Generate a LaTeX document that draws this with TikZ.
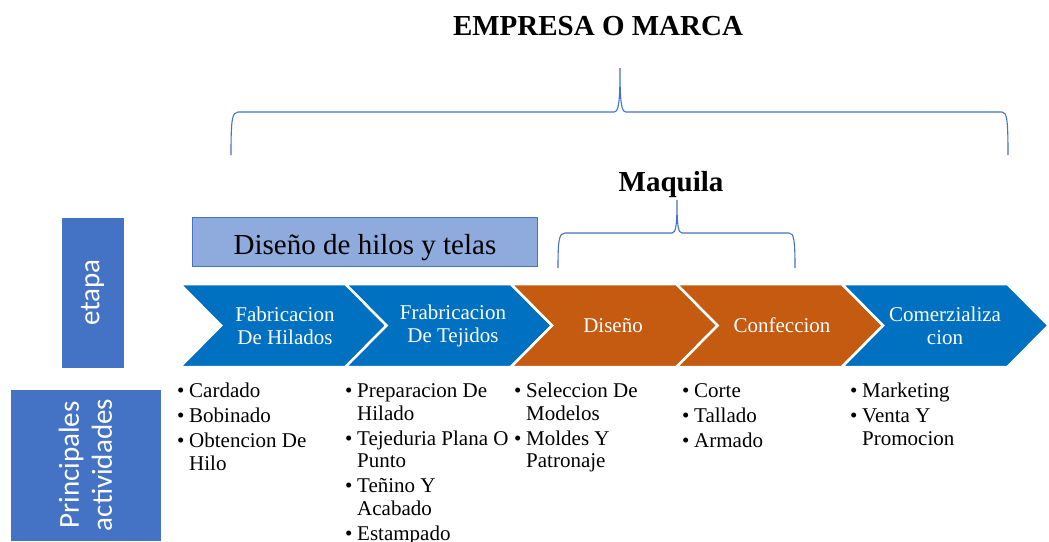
\documentclass[tikz,border=0pt]{standalone}
\usepackage{fontspec}
\setmainfont{Liberation Serif}
\newfontfamily\calib{Carlito}
\definecolor{boxblue}{HTML}{4472C4}
\definecolor{lightblue}{HTML}{8FAADC}
\definecolor{chblue}{HTML}{0070C0}
\definecolor{chorange}{HTML}{C55A11}
\newcommand\mychev[2]{\fill[#2, draw=white, line width=2.5pt] (#1,284) -- ++(165.5,0) -- ++(41,41.5) -- ++(-41,41.5) -- ++(-165.5,0) -- ++(41,-41.5) -- cycle;}
\tikzset{
  chevtext/.style={text=white, align=center, font=\fontsize{21}{23}\selectfont, inner sep=0pt},
  listcol/.style={anchor=north west, inner sep=0pt, font=\fontsize{21}{22.5}\selectfont},
  sidebox/.style={fill=boxblue, draw=boxblue, text=white, rotate=90, inner sep=0pt, align=center, font=\calib\fontsize{29}{33}\selectfont},
  bracestyle/.style={draw=boxblue, line width=1.1pt},
  titletext/.style={anchor=base, font=\bfseries\fontsize{29}{33}\selectfont, inner sep=0pt},
}
\begin{document}
\begin{tikzpicture}[x=1pt,y=-1pt]
\useasboundingbox[fill=white] (0,0) rectangle (1049,541);
% titles
\node[titletext] (empresa) at (598,35) {EMPRESA O MARCA};
\node[titletext] (maquila) at (671,191) {Maquila};
% braces
\draw[bracestyle] (231,155) .. controls (231,120) and (232,112) .. (238,112) -- (614,112)
  .. controls (619,112) and (620,100) .. (620,68)
  .. controls (620,100) and (621,112) .. (626,112) -- (1002,112)
  .. controls (1007,112) and (1008,120) .. (1008,155);
\draw[bracestyle] (558,268) .. controls (558,240) and (559,233) .. (565,233) -- (672,233)
  .. controls (676,233) and (677,225) .. (677,200)
  .. controls (677,225) and (678,233) .. (682,233) -- (789,233)
  .. controls (794,233) and (795,240) .. (795,268);
% design box
\node[draw=boxblue, fill=lightblue, line width=1.8pt, minimum width=345pt, minimum height=49pt, inner sep=0pt] (dh) at (365,242) {};
\node[anchor=base, font=\fontsize{29}{33}\selectfont, inner sep=0pt] (dhtext) at (365,254) {Diseño de hilos y telas};
% side boxes
\node[sidebox, minimum width=149pt, minimum height=61pt] (etapa) at (92.5,292.5) {etapa};
\node[sidebox, minimum width=150pt, minimum height=149pt] (princ) at (85.5,465) {Principales\\actividades};
% chevrons
\mychev{180}{chblue}
\mychev{345.5}{chblue}
\mychev{511}{chorange}
\mychev{676.5}{chorange}
\mychev{842}{chblue}
\node[chevtext] (c1) at (285,325.5) {Fabricacion\\De Hilados};
\node[chevtext] (c2) at (453,325.5) {Frabricacion\\De Tejidos};
\node[chevtext] (c3) at (613,325.5) {Diseño};
\node[chevtext] (c4) at (782,325.5) {Confeccion};
\node[chevtext] (c5) at (945,325.5) {Comerzializa\\cion};
% lists
\node[listcol] (l1) at (177,382) {\begin{tabular}{@{}p{12pt}@{}l@{}}
• & Cardado\\[2.5pt]
• & Bobinado\\[2.5pt]
• & Obtencion De\\
  & Hilo
\end{tabular}};
\node[listcol] (l2) at (345,382) {\begin{tabular}{@{}p{12pt}@{}l@{}}
• & Preparacion De\\
  & Hilado\\[2.5pt]
• & Tejeduria Plana O\\
  & Punto\\[2.5pt]
• & Teñino Y\\
  & Acabado\\[2.5pt]
• & Estampado
\end{tabular}};
\node[listcol] (l3) at (514,382) {\begin{tabular}{@{}p{12pt}@{}l@{}}
• & Seleccion De\\
  & Modelos\\[2.5pt]
• & Moldes Y\\
  & Patronaje
\end{tabular}};
\node[listcol] (l4) at (682,382) {\begin{tabular}{@{}p{12pt}@{}l@{}}
• & Corte\\[2.5pt]
• & Tallado\\[2.5pt]
• & Armado
\end{tabular}};
\node[listcol] (l5) at (850,382) {\begin{tabular}{@{}p{12pt}@{}l@{}}
• & Marketing\\[2.5pt]
• & Venta Y\\
  & Promocion
\end{tabular}};
\end{tikzpicture}
\end{document}
